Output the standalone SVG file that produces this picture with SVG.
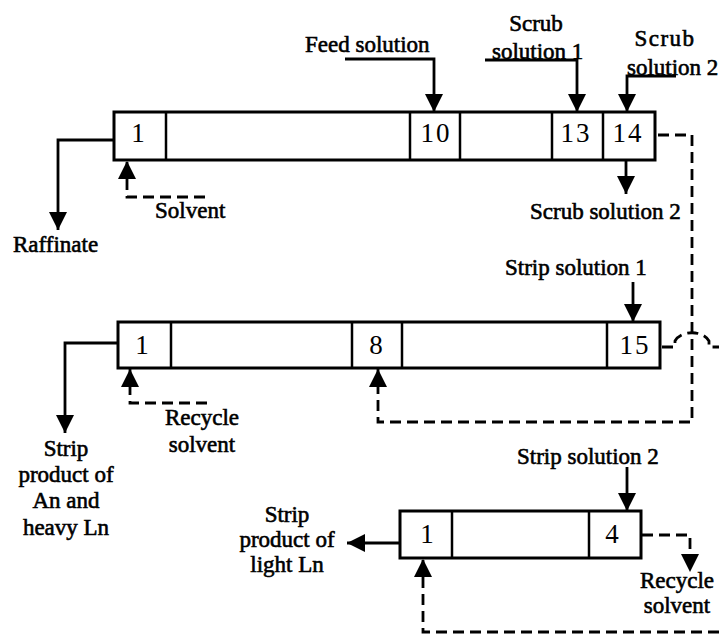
<svg xmlns="http://www.w3.org/2000/svg" width="719" height="642" viewBox="0 0 719 642">
<style>
.box{fill:#fff;stroke:#000;stroke-width:3}
.div{stroke:#000;stroke-width:2.5}
.num{font-family:"Liberation Serif","Times New Roman",serif;font-size:27px;letter-spacing:2px;text-anchor:middle;fill:#000}
.lbl{font-family:"Liberation Serif","Times New Roman",serif;font-size:23px;fill:#000;stroke:#000;stroke-width:0.6}
.mid{text-anchor:middle}
.solid{fill:none;stroke:#000;stroke-width:2.8}
.dash{fill:none;stroke:#000;stroke-width:2.8;stroke-dasharray:11 6}
.arr{marker-end:url(#ah)}
</style>
<defs>
<marker id="ah" markerUnits="userSpaceOnUse" markerWidth="18" markerHeight="18" refX="18" refY="9" orient="auto">
<path d="M0,0 L18,9 L0,18 Z" fill="#000"/>
</marker>
</defs>

<g id="extraction">
<rect class="box" x="114" y="112" width="541" height="48"/>
<line class="div" x1="166" y1="112" x2="166" y2="160"/>
<line class="div" x1="410" y1="112" x2="410" y2="160"/>
<line class="div" x1="460" y1="112" x2="460" y2="160"/>
<line class="div" x1="552" y1="112" x2="552" y2="160"/>
<line class="div" x1="603" y1="112" x2="603" y2="160"/>
<text class="num" x="139" y="142">1</text>
<text class="num" x="436" y="142">10</text>
<text class="num" x="576" y="142">13</text>
<text class="num" x="628" y="142">14</text>
</g>

<g id="strip1">
<rect class="box" x="118" y="322" width="542" height="46"/>
<line class="div" x1="171" y1="322" x2="171" y2="368"/>
<line class="div" x1="352" y1="322" x2="352" y2="368"/>
<line class="div" x1="402" y1="322" x2="402" y2="368"/>
<line class="div" x1="607" y1="322" x2="607" y2="368"/>
<text class="num" x="143" y="354">1</text>
<text class="num" x="377" y="354">8</text>
<text class="num" x="635" y="354">15</text>
</g>

<g id="strip2">
<rect class="box" x="400" y="511" width="241" height="47"/>
<line class="div" x1="452" y1="511" x2="452" y2="558"/>
<line class="div" x1="589" y1="511" x2="589" y2="558"/>
<text class="num" x="428" y="543">1</text>
<text class="num" x="613" y="543">4</text>
</g>

<g id="connectors">
<path class="solid arr" d="M114 140 H58 V230"/>
<path class="solid arr" d="M345 59 H434 V112"/>
<path class="solid arr" d="M485 60 H577 V112"/>
<path class="solid arr" d="M676 76 H627 V112"/>
<path class="solid arr" d="M626 160 V194"/>
<path class="solid arr" d="M633 282 V322"/>
<path class="solid arr" d="M118 343 H65 V433"/>
<path class="solid arr" d="M627 467 V511"/>
<path class="solid arr" d="M400 543 H347"/>
<path class="dash arr" d="M205 197 H127 V161"/>
<path class="dash arr" d="M207 403 H130 V369"/>
<path class="dash arr" d="M658 135 H692 V422 H378 V369"/>
<path class="dash" d="M662 347 H675 V341 C681 330 703 330 709 341 V347 H719"/>
<path class="dash arr" d="M642 535 H690 V572"/>
<path class="dash arr" d="M719 632 H423 V559"/>
</g>

<g id="labels">
<text class="lbl" x="13" y="252">Raffinate</text>
<text class="lbl" x="155" y="218">Solvent</text>
<text class="lbl" x="305" y="52">Feed solution</text>
<text class="lbl mid" x="536" y="31">Scrub</text>
<text class="lbl" x="492" y="59">solution 1</text>
<text class="lbl mid" x="665" y="46" letter-spacing="1.5">Scrub</text>
<text class="lbl" x="627" y="75">solution 2</text>
<text class="lbl" x="530" y="219">Scrub solution 2</text>
<text class="lbl" x="505" y="275">Strip solution 1</text>
<text class="lbl mid" x="66" y="456">Strip</text>
<text class="lbl mid" x="66" y="482">product of</text>
<text class="lbl mid" x="66" y="508">An and</text>
<text class="lbl mid" x="66" y="535">heavy Ln</text>
<text class="lbl mid" x="202" y="425">Recycle</text>
<text class="lbl mid" x="202" y="452">solvent</text>
<text class="lbl" x="517" y="464">Strip solution 2</text>
<text class="lbl mid" x="287" y="522">Strip</text>
<text class="lbl mid" x="287" y="547">product of</text>
<text class="lbl mid" x="287" y="572">light Ln</text>
<text class="lbl mid" x="677" y="588">Recycle</text>
<text class="lbl mid" x="677" y="613">solvent</text>
</g>
</svg>
